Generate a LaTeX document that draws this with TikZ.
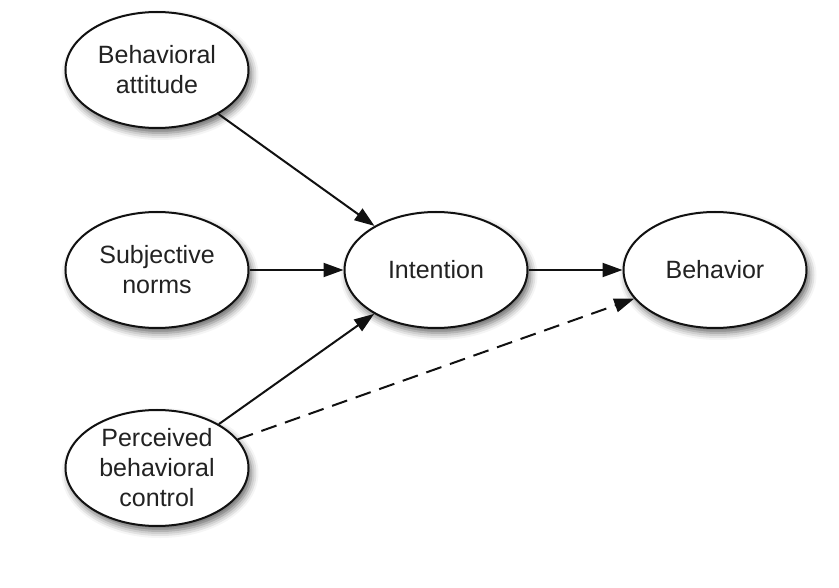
\documentclass[tikz,border=0pt]{standalone}
\usepackage{fontspec}
\setmainfont{Liberation Sans}
\usetikzlibrary{shapes.geometric,arrows.meta,shadows.blur}
\definecolor{txt}{HTML}{222222}
\definecolor{ln}{HTML}{111111}
\tikzset{
  oval/.style={ellipse, draw=ln, line width=2pt, fill=white,
    minimum width=183pt, minimum height=116pt, inner sep=0pt,
    align=center, text=txt, font=\fontsize{25}{30}\selectfont,
    blur shadow={shadow xshift=3pt, shadow yshift=-5pt, shadow blur radius=7pt, shadow opacity=60}},
  conn/.style={draw=ln, line width=2pt, -{Triangle[length=20pt,width=14pt]}},
  dconn/.style={conn, dash pattern=on 16pt off 9pt}
}
\begin{document}
\begin{tikzpicture}[x=1pt,y=-1pt]
\useasboundingbox (0,0) rectangle (839,588);
\node[oval] (att) at (157,70) {Behavioral\\attitude};
\node[oval] (norm) at (157,270) {Subjective\\norms};
\node[oval] (pbc) at (157,468) {Perceived\\behavioral\\control};
\node[oval] (int) at (436,270) {Intention};
\node[oval] (beh) at (715,270) {Behavior};
\draw[conn] (att) -- (int);
\draw[conn] (norm) -- (int);
\draw[conn] (pbc) -- (int);
\draw[conn] (int) -- (beh);
\draw[dconn] (pbc) -- (beh);
\end{tikzpicture}
\end{document}
